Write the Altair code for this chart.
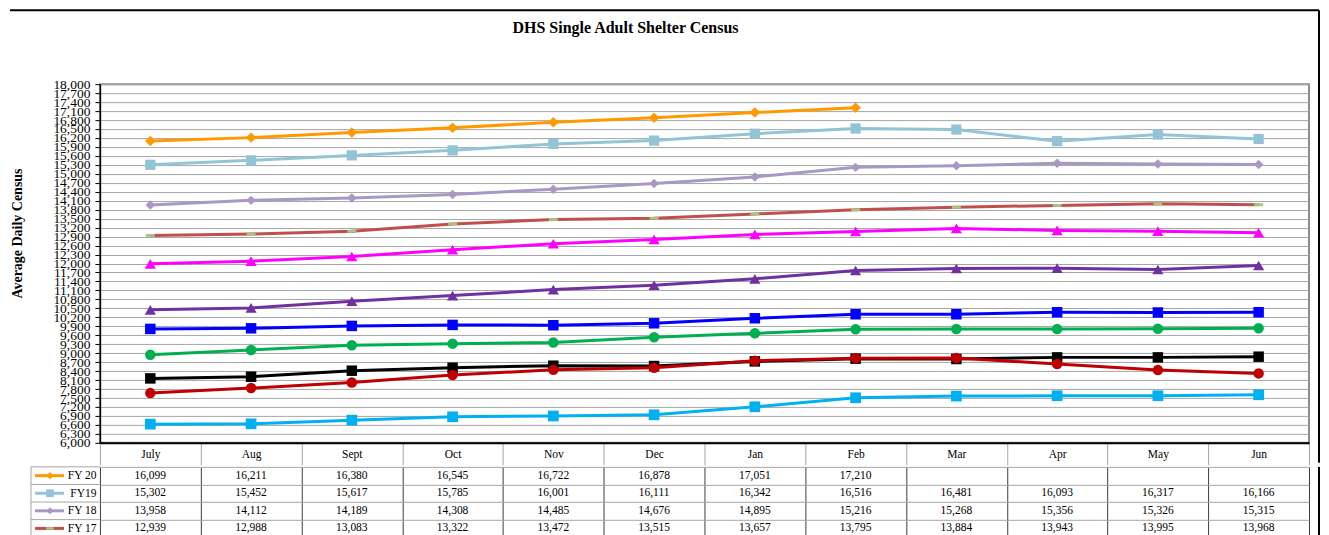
import altair as alt
import pandas as pd

months = ["July", "Aug", "Sept", "Oct", "Nov", "Dec", "Jan", "Feb", "Mar", "Apr", "May", "Jun"]
series_names = ["FY 20", "FY19", "FY 18", "FY 17", "FY 16", "FY 15", "FY 14", "FY 13", "FY 12", "FY 11", "FY 10"]
fy20 = [16099, 16211, 16380, 16545, 16722, 16878, 17051, 17210, None, None, None, None]
fy19 = [15302, 15452, 15617, 15785, 16001, 16111, 16342, 16516, 16481, 16093, 16317, 16166]
fy18 = [13958, 14112, 14189, 14308, 14485, 14676, 14895, 15216, 15268, 15356, 15326, 15315]
fy17 = [12939, 12988, 13083, 13322, 13472, 13515, 13657, 13795, 13884, 13943, 13995, 13968]
fy16 = [11990, 12078, 12235, 12460, 12661, 12805, 12973, 13073, 13174, 13107, 13083, 13030]
fy15 = [10449, 10515, 10737, 10928, 11129, 11273, 11488, 11766, 11833, 11843, 11800, 11934]
fy14 = [9812, 9832, 9912, 9946, 9935, 10000, 10168, 10302, 10302, 10369, 10362, 10369]
fy13 = [8950, 9107, 9263, 9319, 9360, 9531, 9665, 9799, 9810, 9810, 9815, 9832]
fy12 = [8156, 8212, 8414, 8514, 8581, 8570, 8726, 8816, 8805, 8860, 8860, 8883]
fy11 = [7665, 7833, 8022, 8268, 8442, 8514, 8749, 8827, 8838, 8637, 8436, 8324]
fy10 = [6626, 6637, 6760, 6872, 6900, 6939, 7207, 7509, 7565, 7576, 7576, 7609]
table_rows = ["FY 20", "FY19", "FY 18", "FY 17"]
y_ticks = list(range(6000, 18001, 300))

series_values = [fy20, fy19, fy18, fy17, fy16, fy15, fy14, fy13, fy12, fy11, fy10]

# style: line colour, marker shape, marker size, marker colour
DASH = "M-1,-0.32L1,-0.32L1,0.32L-1,0.32Z"
style = {
    "FY 20": ("#FF9900", "diamond", 110, "#FF9900"),
    "FY19": ("#93C4D6", "square", 105, "#93C4D6"),
    "FY 18": ("#A898C5", "diamond", 90, "#A898C5"),
    "FY 17": ("#C0504D", DASH, 80, "#A9C47F"),
    "FY 16": ("#FF00FF", "triangle-up", 125, "#FF00FF"),
    "FY 15": ("#7030A0", "triangle-up", 125, "#7030A0"),
    "FY 14": ("#0000FF", "square", 110, "#0000FF"),
    "FY 13": ("#00B050", "circle", 110, "#00B050"),
    "FY 12": ("#000000", "square", 110, "#000000"),
    "FY 11": ("#C00000", "circle", 110, "#C00000"),
    "FY 10": ("#00B0F0", "square", 115, "#00B0F0"),
}
legend_style = {
    "FY 20": 55, "FY19": 60, "FY 18": 50, "FY 17": 60,
}

records = []
for name, vals in zip(series_names, series_values):
    for m, v in zip(months, vals):
        if v is not None:
            records.append({"series": name, "month": m, "value": v})
df = pd.DataFrame(records)

SERIF = "Liberation Serif"
PW, PH = 1210, 359
TH = 70.4
FR = 1220  # right frame line, relative to plot left
HDR = 22   # header row height (x-axis tick length)

x_scale = alt.Scale(type="band", paddingInner=0, paddingOuter=0)
x_enc = alt.X(
    "month:N", sort=months, scale=x_scale, bandPosition=0.5,
    axis=alt.Axis(
        orient="bottom", title=None, tickBand="extent", tickSize=HDR, tickColor="#A6A6A6",
        tickWidth=1, labelPadding=6 - HDR, labelFontSize=11.5, labelAngle=0, labelFont=SERIF,
        labelColor="black", domainColor="black", domainWidth=2, grid=False,
    ),
)
y_enc = alt.Y(
    "value:Q",
    scale=alt.Scale(domain=[6000, 18000], nice=False, zero=False),
    axis=alt.Axis(
        values=y_ticks, format=",d", labelFontSize=13.5, labelFont=SERIF, labelColor="black",
        labelOverlap=False, labelFlush=False, tickSize=5, tickColor="black", labelPadding=5,
        domainColor="black", domainWidth=1.5, grid=True, gridColor="#A6A6A6", gridWidth=1,
        title="Average Daily Census", titleFont=SERIF, titleFontSize=14, titleFontWeight="bold",
        titleColor="black", titleX=-82, titleY=149, titleAngle=-90, titleBaseline="middle",
        titleAlign="center",
    ),
)

one = pd.DataFrame({"k": [0]})
layers = []
for name in series_names:
    lc, shp, sz, mc = style[name]
    sub = alt.Chart(df).transform_filter(alt.datum.series == name)
    layers.append(sub.mark_line(color=lc, strokeWidth=3).encode(x=x_enc, y=y_enc))
    layers.append(
        sub.mark_point(shape=shp, size=sz, filled=True, color=mc, opacity=1, strokeWidth=0)
        .encode(x=x_enc, y=y_enc)
    )

# outer frame pieces (decoration)
frame_top = alt.Chart(one).mark_rule(color="black", strokeWidth=2).encode(
    x=alt.value(-90), x2=alt.value(FR), y=alt.value(-74))
frame_right = alt.Chart(one).mark_rule(color="black", strokeWidth=2).encode(
    x=alt.value(FR), y=alt.value(-74), y2=alt.value(PH + HDR - 2))

top = alt.layer(frame_top, frame_right, *layers).properties(
    width=PW, height=PH,
    title=alt.TitleParams(
        "DHS Single Adult Shelter Census", font=SERIF, fontSize=16, fontWeight="bold",
        color="black", frame="group", anchor="middle", dx=-79, offset=-40, baseline="alphabetic",
    ),
    view=alt.ViewBackground(stroke="#8C8C8C", strokeWidth=2),
)

# data table under the plot
trecs = []
for name, vals in zip(series_names, series_values):
    if name in table_rows:
        for m, v in zip(months, vals):
            if v is not None:
                trecs.append({"row": name, "month": m, "value": v})
tdf = pd.DataFrame(trecs)
ldf = pd.DataFrame({"row": table_rows})

tx = alt.X(
    "month:N", sort=months, scale=x_scale,
    axis=alt.Axis(grid=True, tickBand="extent", labels=False, ticks=False, domain=False,
                  title=None, gridColor="#3C3C3C", gridWidth=1),
)
ty_scale = alt.Scale(type="band", paddingInner=0, paddingOuter=0)
ty = alt.Y(
    "row:N", sort=table_rows, scale=ty_scale, bandPosition=0.5,
    axis=alt.Axis(grid=True, tickBand="extent", ticks=False, domain=False, title=None,
                  gridColor="#A6A6A6", gridWidth=1, labelFont=SERIF, labelFontSize=11.5,
                  labelColor="black", labelPadding=4),
)
text_layer = alt.Chart(tdf).mark_text(font=SERIF, fontSize=11.5, color="black").encode(
    x=tx, y=ty, text=alt.Text("value:Q", format=",d"))

tlayers = [text_layer]
# legend column box
tlayers.append(alt.Chart(ldf).mark_rule(color="#A6A6A6", strokeWidth=1).encode(
    x=alt.value(-69), x2=alt.value(0), y=alt.Y("row:N", sort=table_rows, scale=ty_scale, bandPosition=0)))
tlayers.append(alt.Chart(one).mark_rule(color="#A6A6A6", strokeWidth=1).encode(
    x=alt.value(-69), y=alt.value(0), y2=alt.value(TH)))
tlayers.append(alt.Chart(one).mark_rule(color="black", strokeWidth=2).encode(
    x=alt.value(FR), y=alt.value(0), y2=alt.value(TH)))
for name in table_rows:
    lc, shp, sz, mc = style[name]
    sub = alt.Chart(ldf).transform_filter(alt.datum.row == name)
    tlayers.append(sub.mark_rule(color=lc, strokeWidth=3).encode(
        x=alt.value(-65), x2=alt.value(-36), y=ty))
    tlayers.append(sub.mark_point(shape=shp, size=legend_style[name], filled=True, color=mc,
                                  opacity=1, strokeWidth=0).encode(x=alt.value(-50), y=ty))

table = alt.layer(*tlayers).properties(
    width=PW, height=TH, view=alt.ViewBackground(stroke=None))

chart = alt.vconcat(top, table, spacing=-6).properties(
    padding={"left": 0, "top": 0, "right": 0, "bottom": 0}
).configure(background="white")

chart.save("out.html", embed_options={"renderer": "svg", "actions": False})
